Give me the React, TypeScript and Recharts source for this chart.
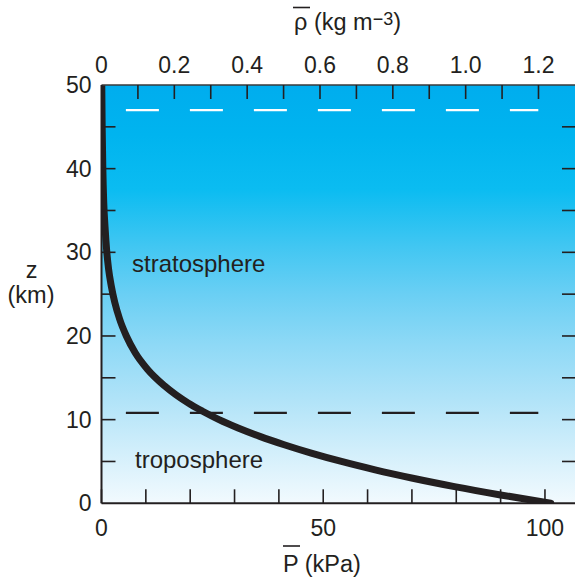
import {
  CartesianGrid,
  Label,
  Line,
  LineChart,
  ReferenceLine,
  XAxis,
  YAxis,
} from 'recharts'

// mean pressure profile
const altitudeKm = [0, 1, 2, 3, 4, 5, 6, 7, 8, 9, 10, 11, 12, 14, 16, 18, 20, 22, 24, 26, 28, 30, 33, 36, 40, 45, 50]
const pressureKPa = [
  101.3, 90.0, 79.6, 70.2, 61.7, 54.1, 47.3, 41.2, 35.7, 30.8, 26.5, 22.8, 19.5, 14.3, 10.4, 7.6, 5.6, 4.1, 3.0,
  2.2, 1.6, 1.2, 0.8, 0.5, 0.3, 0.15, 0.06,
]

const pressureLabelTicks = [0, 50, 100]
const pressureMinorTicks = [0, 10, 20, 30, 40, 50, 60, 70, 80, 90, 100]
const densityLabelTicks = [0, 0.2, 0.4, 0.6, 0.8, 1.0, 1.2]
const densityMinorTicks = [0.1, 0.2, 0.3, 0.4, 0.5, 0.6, 0.7, 0.8, 0.9, 1.0, 1.1, 1.2]
const altitudeLabelTicks = [0, 10, 20, 30, 40, 50]
const altitudeMinorTicks = [5, 10, 15, 20, 25, 30, 35, 40, 45]

const tropopauseKm = 10.8
const stratopauseKm = 47

const pressureDomain = [0, 107]
const altitudeDomain = [0, 50]
// the top density axis spans 0..1.303 kg m-3 over the same width as 0..107 kPa
const kPaPerDensity = 107 / 1.303
const dashFrom = 5.5
const dashTo = 98.5

const INK = '#231f20'
const FONT = '"Liberation Sans", Arial, Helvetica, sans-serif'

const chartData = altitudeKm.map((z, i) => ({ z, p: pressureKPa[i] })).reverse()

const noTick = () => <g />

function PressureTitle({ viewBox }: any) {
  const x = viewBox.x + 181.5
  const y = viewBox.y + 68.7
  return (
    <g>
      <line x1={x} x2={x + 17} y1={y - 26} y2={y - 26} stroke={INK} strokeWidth={1.6} />
      <text x={x} y={y} fill={INK} fontSize={23.5} fontFamily={FONT}>
        P (kPa)
      </text>
    </g>
  )
}

function DensityTitle({ viewBox }: any) {
  const x = viewBox.x + 192.5
  const y = 29.5
  return (
    <g>
      <line x1={x - 1} x2={x + 16} y1={7.5} y2={7.5} stroke={INK} strokeWidth={1.6} />
      <text x={x} y={y} fill={INK} fontSize={23.5} fontFamily={FONT}>
        ρ (kg m
        <tspan fontSize={18} dy={-5}>
          −3
        </tspan>
        <tspan dy={5}>)</tspan>
      </text>
    </g>
  )
}

function AltitudeTitle() {
  return (
    <g>
      <text x={31.5} y={278} textAnchor="middle" fill={INK} fontSize={23.5} fontFamily={FONT}>
        z
      </text>
      <text x={31} y={303} textAnchor="middle" fill={INK} fontSize={23.5} fontFamily={FONT}>
        (km)
      </text>
    </g>
  )
}

const tickStyle = { fill: INK, fontSize: 23, fontFamily: FONT }
const minorLine = { stroke: INK, strokeWidth: 1.6 }

export default function App() {
  return (
    <div style={{ position: 'fixed', left: 0, top: 0, width: 575, height: 580, overflow: 'hidden', background: '#fff' }}>
      <LineChart width={600} height={580} data={chartData} margin={{ top: 0, right: 24, bottom: 0, left: 0 }}>
        <defs>
          <linearGradient id="skyFade" x1="0" y1="0" x2="0" y2="1">
            <stop offset="0%" stopColor="#00adee" />
            <stop offset="12%" stopColor="#00b4ef" />
            <stop offset="25%" stopColor="#0bbcf1" />
            <stop offset="38%" stopColor="#3fc6f2" />
            <stop offset="50%" stopColor="#6acff4" />
            <stop offset="62%" stopColor="#8ed9f6" />
            <stop offset="75%" stopColor="#b0e3f8" />
            <stop offset="88%" stopColor="#d3effb" />
            <stop offset="100%" stopColor="#f2fafe" />
          </linearGradient>
        </defs>
        <CartesianGrid xAxisId="p" yAxisId="z" horizontal={false} vertical={false} fill="url(#skyFade)" fillOpacity={1} />

        <XAxis
          xAxisId="p"
          dataKey="p"
          type="number"
          domain={pressureDomain}
          allowDataOverflow
          ticks={pressureLabelTicks}
          interval={0}
          height={76.7}
          tickSize={0}
          tickMargin={16}
          tickLine={false}
          axisLine={{ stroke: INK, strokeWidth: 2 }}
          tick={tickStyle}
        >
          <Label content={PressureTitle} />
        </XAxis>
        <XAxis
          xAxisId="pMinor"
          dataKey="p"
          type="number"
          domain={pressureDomain}
          allowDataOverflow
          ticks={pressureMinorTicks}
          interval={0}
          mirror
          axisLine={false}
          tickSize={14}
          tickLine={minorLine}
          tick={noTick}
        />
        <XAxis
          xAxisId="rho"
          dataKey="p"
          orientation="top"
          type="number"
          domain={pressureDomain}
          allowDataOverflow
          ticks={densityLabelTicks.map((r) => r * kPaPerDensity)}
          interval={0}
          height={85}
          tickSize={0}
          tickMargin={12}
          tickLine={false}
          tickFormatter={(v: number) => (v === 0 ? '0' : (v / kPaPerDensity).toFixed(1))}
          axisLine={{ stroke: '#3a3a3a', strokeWidth: 1.6 }}
          tick={tickStyle}
        >
          <Label content={DensityTitle} />
        </XAxis>
        <XAxis
          xAxisId="rhoMinor"
          dataKey="p"
          orientation="top"
          type="number"
          domain={pressureDomain}
          allowDataOverflow
          ticks={densityMinorTicks.map((r) => r * kPaPerDensity)}
          interval={0}
          mirror
          axisLine={false}
          tickSize={14}
          tickLine={minorLine}
          tick={noTick}
        />

        <YAxis
          yAxisId="z"
          type="number"
          domain={altitudeDomain}
          allowDataOverflow
          ticks={altitudeLabelTicks}
          interval={0}
          width={101.5}
          tickSize={0}
          tickMargin={10}
          tickLine={false}
          axisLine={{ stroke: INK, strokeWidth: 2 }}
          tick={tickStyle}
        >
          <Label content={AltitudeTitle} />
        </YAxis>
        <YAxis
          yAxisId="zMinor"
          type="number"
          domain={altitudeDomain}
          allowDataOverflow
          ticks={altitudeMinorTicks}
          interval={0}
          mirror
          axisLine={false}
          tickSize={14}
          tickLine={minorLine}
          tick={noTick}
        />
        <YAxis
          yAxisId="zRight"
          orientation="right"
          type="number"
          domain={altitudeDomain}
          allowDataOverflow
          ticks={altitudeMinorTicks}
          interval={0}
          mirror
          axisLine={{ stroke: INK, strokeWidth: 2 }}
          tickSize={14}
          tickLine={minorLine}
          tick={noTick}
        />

        <ReferenceLine
          xAxisId="p"
          yAxisId="z"
          segment={[
            { x: dashFrom, y: stratopauseKm },
            { x: dashTo, y: stratopauseKm },
          ]}
          stroke="#ffffff"
          strokeWidth={2.2}
          strokeDasharray="33 31"
        />
        <ReferenceLine
          xAxisId="p"
          yAxisId="z"
          segment={[
            { x: dashFrom, y: tropopauseKm },
            { x: dashTo, y: tropopauseKm },
          ]}
          stroke={INK}
          strokeWidth={2.2}
          strokeDasharray="33 31"
        />

        <Line
          xAxisId="p"
          yAxisId="z"
          dataKey="z"
          type="monotone"
          stroke={INK}
          strokeWidth={7}
          strokeLinecap="round"
          strokeLinejoin="round"
          dot={false}
          activeDot={false}
          isAnimationActive={false}
        />

        <text x={132} y={272} fill={INK} fontSize={24} fontFamily={FONT}>
          stratosphere
        </text>
        <text x={135} y={468} fill={INK} fontSize={24} fontFamily={FONT}>
          troposphere
        </text>
      </LineChart>
    </div>
  )
}
